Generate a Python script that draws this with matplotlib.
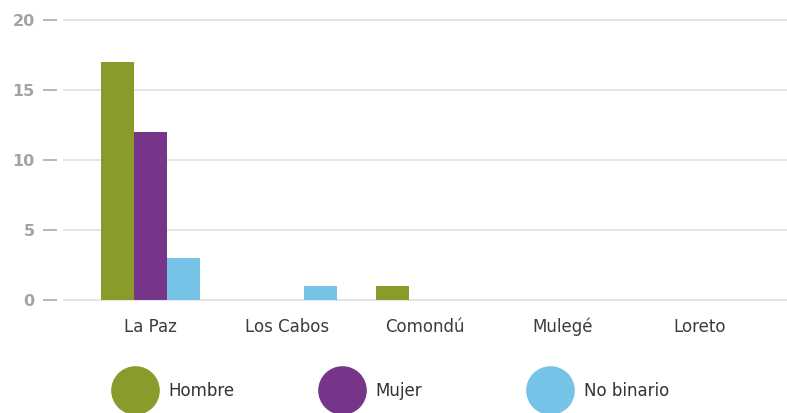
import matplotlib.pyplot as plt
from matplotlib.lines import Line2D
import numpy as np

municipios = ['La Paz', 'Los Cabos', 'Comondú', 'Mulegé', 'Loreto']
series = ['Hombre', 'Mujer', 'No binario']
hombre = [17, 0, 1, 0, 0]
mujer = [12, 0, 0, 0, 0]
no_binario = [3, 1, 0, 0, 0]
colores = ['#8A9A2B', '#77358A', '#75C4E8']
yticks = [0, 5, 10, 15, 20]

plt.rcParams['font.family'] = ['DejaVu Sans']

fig = plt.figure(figsize=(7.87, 4.13), dpi=100)
ax = fig.add_axes([63 / 787, 112 / 413, 724 / 787, 282 / 413])

x = np.arange(len(municipios))
w = 0.24
for j, vals in enumerate([hombre, mujer, no_binario]):
    ax.bar(x + (j - 1) * w, vals, width=w, color=colores[j], zorder=3)

ax.set_xlim(-0.633, 4.633)
ax.set_ylim(-0.07, 20.07)
ax.grid(axis='y', color='#e0e0e0', linewidth=1.2, zorder=0)
ax.spines['left'].set_position(('outward', 4.5))
for s in ax.spines.values():
    s.set_visible(False)

ax.tick_params(axis='x', length=0, pad=12)
ax.tick_params(axis='y', length=10, width=1.3, color='#b0b0b0', pad=6,
               labelsize=11.5, labelcolor='#a3a3a3')
ax.set_yticks(yticks)
ax.set_xticks(x)
ax.set_xticklabels(municipios, fontsize=12, color='#3c3c3c')
for lab in ax.get_yticklabels():
    lab.set_fontweight('bold')

# legend entries placed one by one, evenly spread under the chart
lefts = [112, 319, 527]
for name, col, lx in zip(series, colores, lefts):
    h = Line2D([], [], linestyle='none', marker='o', markersize=34,
               markerfacecolor=col, markeredgecolor=col)
    fig.legend(handles=[h], labels=[name], loc='center left',
               bbox_to_anchor=(lx / 787, 22 / 413), frameon=False,
               fontsize=12, handlelength=2.8, handletextpad=0.6,
               borderpad=0, borderaxespad=0, labelcolor='#333333')

fig.savefig('out.png', dpi=100)
